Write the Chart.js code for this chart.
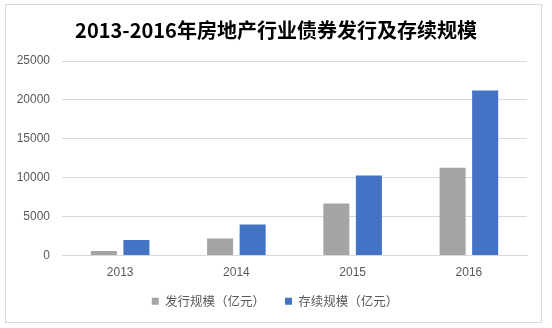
<!DOCTYPE html>
<html>
<head>
<meta charset="utf-8">
<script src="https://cdn.jsdelivr.net/npm/chart.js@4"></script>
<style>
  body { margin: 0; background: #fff; }
  #wrap {
    position: absolute; left: 5px; top: 4px;
    width: 535px; height: 317px;
    border: 1px solid #d9d9d9;
  }
</style>
</head>
<body>
<div id="wrap"><canvas id="bondChart" width="535" height="317"></canvas></div>
<script>
const years = ['2013', '2014', '2015', '2016'];
const issueSize = [600, 2200, 6700, 11300];
const outstandingSize = [2000, 4000, 10300, 21200];
const seriesNames = ['发行规模（亿元）', '存续规模（亿元）'];

const tickFont = { family: "'Liberation Sans', 'Noto Sans CJK SC', sans-serif", size: 12 };

// short legend box with wide item gaps; title and legend centred on the whole frame
const layoutTweaks = {
  id: 'layoutTweaks',
  afterInit(chart) {
    const legend = chart.legend;
    const fit = legend.fit;
    legend.fit = function () {
      fit.call(this);
      this.height = 24;
    };
  },
  afterLayout(chart) {
    const legend = chart.legend;
    legend.top -= 15;
    legend.bottom = legend.top + 40;
    legend.left += 17;
    chart.titleBlock.left += 19;
  }
};

const ctx = document.getElementById('bondChart');
new Chart(ctx, {
  type: 'bar',
  data: {
    labels: years,
    datasets: [
      { label: seriesNames[0], data: issueSize, backgroundColor: '#a5a5a5' },
      { label: seriesNames[1], data: outstandingSize, backgroundColor: '#4472c4' }
    ]
  },
  options: {
    responsive: false,
    animation: false,
    categoryPercentage: 0.56,
    barPercentage: 0.8,
    layout: { padding: { left: 0, right: 14, bottom: 8 } },
    plugins: {
      title: {
        display: true,
        text: '2013-2016年房地产行业债券发行及存续规模',
        color: '#000',
        font: { family: "'Noto Sans CJK SC', sans-serif", size: 20, weight: 'bold' },
        padding: { top: 13, bottom: 19 }
      },
      legend: {
        position: 'bottom',
        labels: {
          color: '#595959',
          font: { family: "'Noto Sans CJK SC', sans-serif", size: 12.5 },
          boxWidth: 7,
          boxHeight: 7,
          padding: 20
        }
      },
      tooltip: { enabled: false }
    },
    scales: {
      x: {
        grid: { display: false, drawTicks: false },
        border: { color: '#d9d9d9' },
        ticks: { color: '#595959', font: tickFont, padding: 10 }
      },
      y: {
        min: 0,
        max: 25000,
        afterFit: scale => { scale.width = 56; },
        grid: { color: '#d9d9d9', drawTicks: false },
        border: { display: false },
        ticks: {
          stepSize: 5000,
          color: '#595959',
          font: tickFont,
          padding: 12,
          callback: v => String(v)
        }
      }
    }
  },
  plugins: [layoutTweaks]
});
</script>
</body>
</html>
